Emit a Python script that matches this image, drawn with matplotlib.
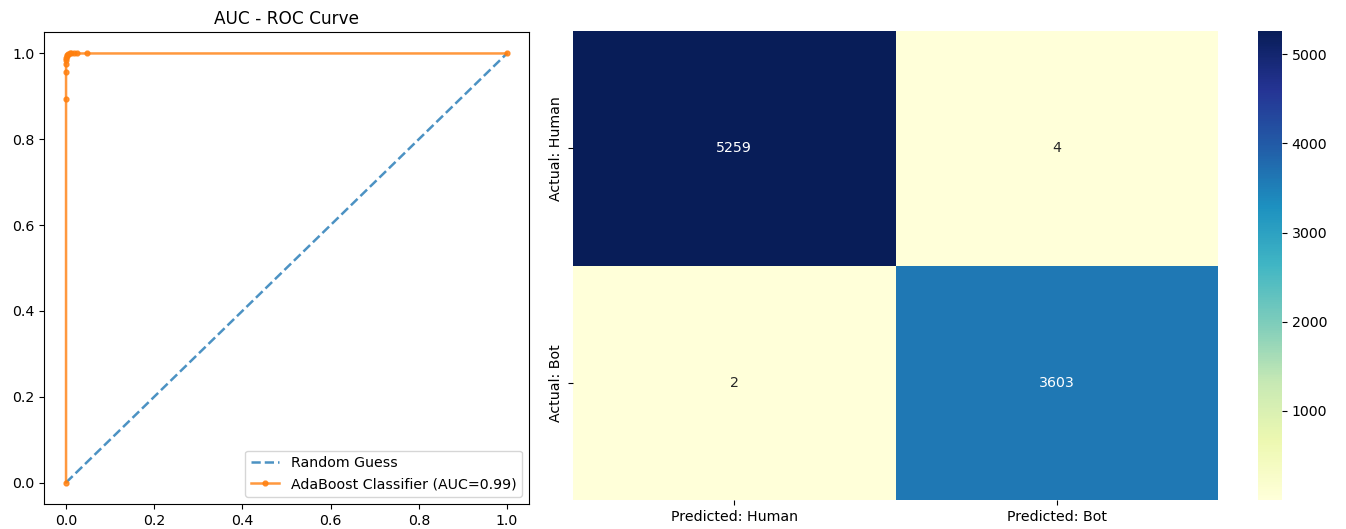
import numpy as np
import matplotlib
matplotlib.use("Agg")
import matplotlib.pyplot as plt
import seaborn as sns

# ROC curve points
fpr = [0.0, 0.0, 0.0, 0.0, 0.0, 0.001, 0.002, 0.003, 0.005, 0.008, 0.012, 0.018, 0.025, 0.047, 1.0]
tpr = [0.0, 0.895, 0.956, 0.975, 0.985, 0.99, 0.994, 0.997, 0.999, 1.0, 1.0, 1.0, 1.0, 1.0, 1.0]
guess = [0.0, 1.0]

# confusion matrix
cm = np.array([[5259, 4],
               [2, 3603]])
x_labels = ["Predicted: Human", "Predicted: Bot"]
y_labels = ["Actual: Human", "Actual: Bot"]

plt.rcParams["font.size"] = 10.2

fig = plt.figure(figsize=(13.46, 5.29), dpi=100)
W, H = 1346, 529

ax1 = fig.add_axes([44 / W, 1 - 504 / H, 485 / W, 472 / H])
ax1.plot(guess, guess, linestyle="--", color="tab:blue", alpha=0.8, linewidth=1.8,
         label="Random Guess")
ax1.plot(fpr, tpr, marker=".", markersize=7, color="tab:orange", alpha=0.8,
         linewidth=1.8, label="AdaBoost Classifier (AUC=0.99)")
ax1.set_title("AUC - ROC Curve", fontsize=12.2)
ax1.legend(loc="lower right")

ax2 = fig.add_axes([573 / W, 1 - 500 / H, 645 / W, 469 / H])
cax = fig.add_axes([1258 / W, 1 - 500 / H, 24 / W, 469 / H])
sns.heatmap(cm, annot=True, fmt="d", cmap="YlGnBu", ax=ax2, cbar_ax=cax,
            xticklabels=x_labels, yticklabels=y_labels)
ax2.set_yticklabels(y_labels, rotation=90, va="center")
cax.tick_params(labelsize=10.2)

plt.savefig("out.png", dpi=100)
